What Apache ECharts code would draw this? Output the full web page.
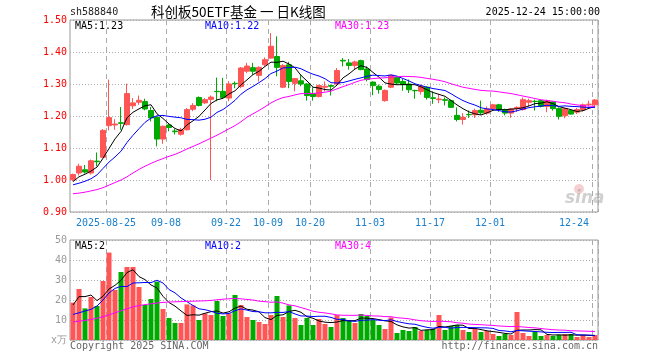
<!DOCTYPE html>
<html><head><meta charset="utf-8">
<script src="https://cdn.jsdelivr.net/npm/echarts@6/dist/echarts.min.js"></script>
<style>html,body{margin:0;padding:0;background:#fff}#c{width:660px;height:360px}</style>
</head><body><div id="c"></div>
<script>
const dates = [
'2025-08-15','2025-08-18','2025-08-19','2025-08-20','2025-08-21','2025-08-22','2025-08-25','2025-08-26','2025-08-27','2025-08-28','2025-08-29',
'2025-09-01','2025-09-02','2025-09-03','2025-09-04','2025-09-05','2025-09-08','2025-09-09','2025-09-10','2025-09-11','2025-09-12',
'2025-09-15','2025-09-16','2025-09-17','2025-09-18','2025-09-19','2025-09-22','2025-09-23','2025-09-24','2025-09-25','2025-09-26','2025-09-29','2025-09-30',
'2025-10-09','2025-10-10','2025-10-13','2025-10-14','2025-10-15','2025-10-16','2025-10-17','2025-10-20','2025-10-21','2025-10-22','2025-10-23','2025-10-24',
'2025-10-27','2025-10-28','2025-10-29','2025-10-30','2025-10-31','2025-11-03','2025-11-04','2025-11-05','2025-11-06','2025-11-07',
'2025-11-10','2025-11-11','2025-11-12','2025-11-13','2025-11-14','2025-11-17','2025-11-18','2025-11-19','2025-11-20','2025-11-21',
'2025-11-24','2025-11-25','2025-11-26','2025-11-27','2025-11-28','2025-12-01','2025-12-02','2025-12-03','2025-12-04','2025-12-05',
'2025-12-08','2025-12-09','2025-12-10','2025-12-11','2025-12-12','2025-12-15','2025-12-16','2025-12-17','2025-12-18','2025-12-19',
'2025-12-22','2025-12-23','2025-12-24'];
const openP = [1.001,1.022,1.032,1.022,1.059,1.071,1.170,1.172,1.179,1.173,1.232,1.243,1.245,1.217,1.196,1.128,1.172,1.153,1.143,1.157,
1.221,1.258,1.241,1.252,1.277,1.277,1.256,1.302,1.292,1.340,1.351,1.327,1.360,1.381,1.386,1.290,1.360,1.302,1.310,1.300,
1.270,1.261,1.290,1.295,1.300,1.374,1.366,1.358,1.373,1.347,1.306,1.293,1.248,1.290,1.321,1.308,1.300,1.280,1.277,1.290,
1.257,1.251,1.251,1.248,1.202,1.189,1.205,1.204,1.218,1.209,1.223,1.235,1.220,1.209,1.223,1.220,1.243,1.246,1.248,1.230,
1.244,1.223,1.201,1.217,1.212,1.219,1.236,1.235];
const closeP = [1.017,1.043,1.025,1.060,1.057,1.155,1.195,1.175,1.177,1.270,1.241,1.249,1.222,1.194,1.128,1.168,1.164,1.151,1.157,1.220,
1.233,1.233,1.251,1.259,1.276,1.258,1.300,1.301,1.350,1.356,1.340,1.352,1.376,1.418,1.352,1.358,1.308,1.317,1.300,1.264,
1.261,1.295,1.293,1.293,1.342,1.372,1.358,1.369,1.345,1.314,1.295,1.283,1.280,1.327,1.303,1.298,1.282,1.279,1.293,1.258,
1.255,1.253,1.249,1.227,1.189,1.196,1.204,1.217,1.210,1.222,1.235,1.220,1.209,1.222,1.227,1.251,1.248,1.245,1.230,1.248,
1.223,1.199,1.223,1.206,1.220,1.235,1.237,1.250];
const lowP = [0.996,1.014,1.020,1.017,1.043,1.068,1.155,1.157,1.157,1.170,1.222,1.235,1.218,1.183,1.105,1.113,1.152,1.142,1.139,1.155,
1.215,1.230,1.238,1.000,1.246,1.254,1.246,1.287,1.287,1.334,1.329,1.308,1.355,1.379,1.324,1.287,1.287,1.277,1.293,1.248,
1.248,1.258,1.277,1.264,1.298,1.355,1.345,1.347,1.343,1.308,1.265,1.270,1.245,1.287,1.298,1.279,1.272,1.254,1.267,1.251,
1.238,1.240,1.233,1.225,1.183,1.173,1.194,1.194,1.204,1.204,1.220,1.213,1.202,1.194,1.213,1.217,1.230,1.217,1.227,1.212,
1.217,1.189,1.193,1.204,1.206,1.214,1.230,1.227];
const highP = [1.020,1.051,1.047,1.064,1.086,1.159,1.314,1.190,1.228,1.301,1.256,1.264,1.254,1.228,1.199,1.170,1.175,1.160,1.163,1.225,
1.240,1.261,1.256,1.264,1.320,1.319,1.309,1.308,1.353,1.366,1.366,1.355,1.383,1.459,1.449,1.362,1.369,1.317,1.329,1.303,
1.290,1.298,1.308,1.298,1.350,1.381,1.378,1.373,1.376,1.355,1.308,1.298,1.283,1.329,1.324,1.316,1.314,1.282,1.298,1.293,
1.277,1.268,1.258,1.251,1.227,1.209,1.217,1.223,1.248,1.230,1.238,1.238,1.223,1.225,1.230,1.258,1.254,1.251,1.251,1.251,
1.246,1.227,1.225,1.220,1.225,1.239,1.248,1.253];
const volume = [18.7,25.5,15.8,21.5,17.0,29.5,43.7,25.0,34.0,36.5,36.5,26.5,17.5,20.5,29.2,15.5,11.0,8.5,8.5,17.8,
17.3,10.0,13.3,12.5,19.5,12.0,13.3,22.5,17.5,11.5,10.0,9.0,8.0,12.5,22.0,11.5,17.3,11.0,7.5,11.0,
7.5,10.5,8.0,6.5,12.5,11.0,10.0,8.5,13.0,12.0,10.0,7.5,5.5,11.3,3.5,5.0,4.5,6.5,4.5,5.0,
5.5,12.5,5.0,7.0,7.5,5.0,4.0,5.5,4.0,4.5,3.0,2.0,3.0,2.5,14.0,3.5,2.0,4.0,2.0,2.5,
2.0,2.5,3.0,3.0,1.5,2.5,1.5,2.5];
// moving-average values at the left edge (history before the window)
const ma5Head = [0.995,1.010,1.018,1.028];
const ma10Head = [0.985,0.990,0.996,1.004,1.016,1.036,1.056,1.072,1.090];
const ma30Head = [0.957,0.959,0.962,0.966,0.970,0.976,0.984,0.992,1.000,1.010,1.022,1.033,1.043,1.052,1.060,1.067,1.074,1.080,1.088,1.097,1.105,1.113,1.122,1.131,1.140,1.150,1.160,1.170,1.182];
const vma5Head = [17.5,21.7,21.7,22.5];
const vma10Head = [12.8,13.6,14.5,15.3,17.0,20.0,23.5,25.8,26.8];
const vma30Head = [9.0,9.4,9.8,10.3,10.9,11.6,12.6,13.6,14.6,15.6,16.6,17.2,17.7,18.1,18.5,18.8,19.0,19.1,19.2,19.3,19.4,19.5,19.6,19.8,20.1,20.4,20.6,20.8,20.6];
const markedDates = ['2025-08-25','2025-09-08','2025-09-22','2025-10-09','2025-10-20','2025-11-03','2025-11-17','2025-12-01','2025-12-24'];

function movingAvg(src, n, head){
  return src.map((v,i)=>{
    if(i < head.length) return head[i];
    let s=0; for(let k=i-n+1;k<=i;k++) s+=src[k];
    return +(s/n).toFixed(4);
  });
}
const RED='#ff5555', GREEN='#00aa00';
const MONO='DejaVu Sans Mono';
const candles = dates.map((d,i)=>[openP[i],closeP[i],lowP[i],highP[i]]);
const volBars = volume.map((v,i)=>({value:v,itemStyle:{color: closeP[i]>=openP[i]?RED:GREEN}}));
const isMarked = (i,v)=> markedDates.indexOf(dates[i])>=0;
const fmtDate = v => v===markedDates[0] ? v : v.slice(5);

const xBase = {type:'category',data:dates,boundaryGap:true,axisLine:{show:false},axisTick:{show:false},
  splitLine:{show:true,interval:isMarked,lineStyle:{color:'#aaaaaa',type:[5,4],width:1}}};
const chart = echarts.init(document.getElementById('c'),null,{renderer:'canvas'});
chart.setOption({
  animation:false,
  backgroundColor:'#fff',
  grid:[
    {left:70,top:20,width:528,height:192,show:true,borderColor:'#999',borderWidth:1,backgroundColor:'transparent'},
    {left:70,top:240,width:528,height:100,show:true,borderColor:'#999',borderWidth:1,backgroundColor:'transparent'}
  ],
  xAxis:[
    Object.assign({},xBase,{gridIndex:0,axisLabel:{show:true,interval:isMarked,formatter:fmtDate,color:'#1a80cc',
      fontFamily:MONO,fontSize:10,margin:6,padding:[0,6,0,0],alignMaxLabel:'right'}}),
    Object.assign({},xBase,{gridIndex:1,axisLabel:{show:false}})
  ],
  yAxis:[
    {type:'value',gridIndex:0,min:0.9,max:1.5,interval:0.1,axisLine:{show:false},axisTick:{show:false},
     axisLabel:{color:'#ff0000',fontFamily:MONO,fontSize:10,margin:3,formatter:v=>v.toFixed(2)},
     splitLine:{show:true,lineStyle:{color:'#aaaaaa',type:[1,2],width:1}}},
    {type:'value',gridIndex:1,min:0,max:50,interval:10,axisLine:{show:false},axisTick:{show:false},
     axisLabel:{color:'#999',fontFamily:MONO,fontSize:10,margin:3,formatter:v=>v===0?'x万':String(v)},
     splitLine:{show:true,lineStyle:{color:'#aaaaaa',type:[1,2],width:1}}}
  ],
  series:[
    {type:'candlestick',xAxisIndex:0,yAxisIndex:0,data:candles,barWidth:5,
     itemStyle:{color:RED,color0:GREEN,borderColor:RED,borderColor0:GREEN,borderWidth:1}},
    {type:'line',xAxisIndex:0,yAxisIndex:0,data:movingAvg(closeP,5,ma5Head),symbol:'none',lineStyle:{color:'#000',width:1}},
    {type:'line',xAxisIndex:0,yAxisIndex:0,data:movingAvg(closeP,10,ma10Head),symbol:'none',lineStyle:{color:'#0000ff',width:1}},
    {type:'line',xAxisIndex:0,yAxisIndex:0,data:movingAvg(closeP,30,ma30Head),symbol:'none',lineStyle:{color:'#ff00ff',width:1}},
    {type:'bar',xAxisIndex:1,yAxisIndex:1,data:volBars,barWidth:5},
    {type:'line',xAxisIndex:1,yAxisIndex:1,data:movingAvg(volume,5,vma5Head),symbol:'none',lineStyle:{color:'#000',width:1}},
    {type:'line',xAxisIndex:1,yAxisIndex:1,data:movingAvg(volume,10,vma10Head),symbol:'none',lineStyle:{color:'#0000ff',width:1}},
    {type:'line',xAxisIndex:1,yAxisIndex:1,data:movingAvg(volume,30,vma30Head),symbol:'none',lineStyle:{color:'#ff00ff',width:1}}
  ],
  graphic:[
    {type:'text',left:70,top:7,style:{text:'sh588840',font:'10px '+MONO,fill:'#222'}},
    {type:'text',left:151,top:5,style:{text:'科创板50ETF基金 一 日K线图',font:'13.5px "Noto Sans CJK SC"',fill:'#000'}},
    {type:'text',right:60,top:7,style:{text:'2025-12-24 15:00:00',font:'10px '+MONO,fill:'#000'}},
    {type:'text',left:75,top:21,style:{text:'MA5:1.23',font:'10px '+MONO,fill:'#000'}},
    {type:'text',left:205,top:21,style:{text:'MA10:1.22',font:'10px '+MONO,fill:'#0000ff'}},
    {type:'text',left:335,top:21,style:{text:'MA30:1.23',font:'10px '+MONO,fill:'#ff00ff'}},
    {type:'text',left:75,top:241,style:{text:'MA5:2',font:'10px '+MONO,fill:'#000'}},
    {type:'text',left:205,top:241,style:{text:'MA10:2',font:'10px '+MONO,fill:'#0000ff'}},
    {type:'text',left:335,top:241,style:{text:'MA30:4',font:'10px '+MONO,fill:'#ff00ff'}},
    {type:'text',left:70,top:341,style:{text:'Copyright 2025 SINA.COM',font:'10px '+MONO,fill:'#666'}},
    {type:'text',right:62,top:341,style:{text:'http://finance.sina.com.cn',font:'10px '+MONO,fill:'#666'}},
    {type:'circle',shape:{cx:579,cy:189,r:5},style:{fill:'rgba(230,120,120,0.35)'}},
    {type:'text',left:565,top:190,style:{text:'sina',font:'italic bold 17px "DejaVu Sans"',fill:'rgba(150,150,150,0.45)'}}
  ]
});
</script></body></html>
